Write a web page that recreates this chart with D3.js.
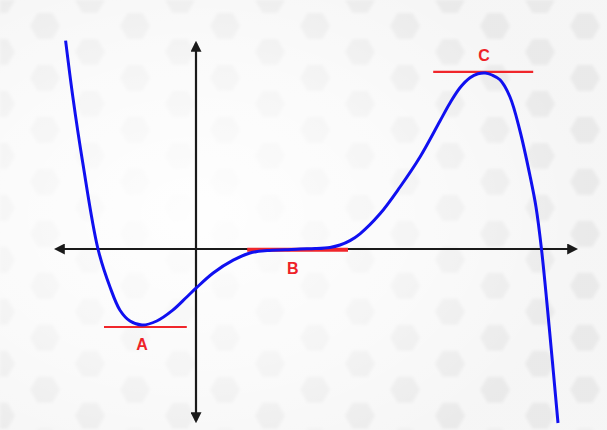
<!DOCTYPE html>
<html>
<head>
<meta charset="utf-8">
<script src="https://cdn.jsdelivr.net/npm/d3@7"></script>
<style>
  html, body { margin: 0; padding: 0; background: #f4f4f4; }
  svg { display: block; }
</style>
</head>
<body>
<svg id="chart" width="607" height="430"></svg>
<script>
// Curve points
const curveX = [-3.26, -3.08, -2.83, -2.45, -2.15, -1.9, -1.65, -1.35, -0.98, -0.58, -0.23, 0,
  0.43, 0.93, 1.35, 1.78, 2.23, 2.6, 2.98, 3.35, 3.6, 3.85, 4.1, 4.6, 5.1, 5.6, 6.1, 6.35,
  6.6, 6.85, 7.05, 7.23, 7.4, 7.6, 7.85, 8.1, 8.35, 8.5, 8.64, 8.83, 9.05];
const curveY = [5.21, 3.81, 2.15, 0, -0.95, -1.53, -1.8, -1.9, -1.8, -1.53, -1.2, -0.98,
  -0.6, -0.28, -0.1, -0.04, -0.02, 0, 0.01, 0.04, 0.1, 0.21, 0.38, 0.88, 1.55, 2.3, 3.2, 3.65,
  4.03, 4.28, 4.38, 4.4, 4.35, 4.23, 3.8, 2.95, 1.83, 1.05, -0.03, -1.95, -4.35];

// Horizontal tangents at the turning points
const pointLabels = ["A", "B", "C"];
const tangentX0 = [-2.3, 1.28, 5.93];
const tangentX1 = [-0.23, 3.8, 8.43];
const tangentY = [-1.95, -0.02, 4.43];
const labelX = [-1.35, 2.42, 7.2];
const labelY = [-2.38, -0.48, 4.85];

const svg = d3.select("#chart");
const width = 607;
const height = 430;

// Scales
const xScale = d3.scaleLinear().domain([-3.5, 9.5]).range([56, 576]);
const yScale = d3.scaleLinear().domain([-4.3, 5.15]).range([421, 43]);

// Background with faint hexagons
const defs = svg.append("defs");
const R = 30, r = 15;
const hex = (cx, cy) => d3.range(6).map((i) => {
  const a = (Math.PI / 3) * i;
  return [cx + r * Math.cos(a), cy + r * Math.sin(a)];
});
const pattern = defs.append("pattern")
  .attr("id", "hexes")
  .attr("patternUnits", "userSpaceOnUse")
  .attr("width", 3 * R)
  .attr("height", Math.sqrt(3) * R);
pattern.append("rect").attr("width", 3 * R).attr("height", Math.sqrt(3) * R).attr("fill", "#f4f4f4");
[[0, 0], [3 * R, 0], [0, Math.sqrt(3) * R], [3 * R, Math.sqrt(3) * R], [1.5 * R, Math.sqrt(3) * R / 2]]
  .forEach(([cx, cy]) => {
    pattern.append("polygon")
      .attr("points", hex(cx, cy).map((p) => p.join(",")).join(" "))
      .attr("fill", "#e6e6e6");
  });

defs.append("filter").attr("id", "soft")
  .append("feGaussianBlur").attr("stdDeviation", 1.6);

const glow = defs.append("radialGradient")
  .attr("id", "glow")
  .attr("cx", "32%").attr("cy", "50%").attr("r", "65%");
glow.append("stop").attr("offset", "0%").attr("stop-color", "#fff").attr("stop-opacity", 0.95);
glow.append("stop").attr("offset", "55%").attr("stop-color", "#fff").attr("stop-opacity", 0.6);
glow.append("stop").attr("offset", "100%").attr("stop-color", "#fff").attr("stop-opacity", 0.15);

svg.append("rect").attr("width", width).attr("height", height).attr("fill", "#f4f4f4");
svg.append("rect").attr("width", width).attr("height", height)
  .attr("fill", "url(#hexes)").attr("filter", "url(#soft)");
svg.append("rect").attr("width", width).attr("height", height).attr("fill", "url(#glow)");

// Arrow marker
defs.append("marker")
  .attr("id", "arrow")
  .attr("viewBox", "0 0 10 10")
  .attr("refX", 8).attr("refY", 5)
  .attr("markerWidth", 5).attr("markerHeight", 5)
  .attr("orient", "auto-start-reverse")
  .append("path")
  .attr("d", "M0,0 L10,5 L0,10 z")
  .attr("fill", "#1a1a1a");

// Axes
const [x0, x1] = xScale.domain();
const [y0, y1] = yScale.domain();
svg.append("line")
  .attr("x1", xScale(x0)).attr("x2", xScale(x1))
  .attr("y1", yScale(0)).attr("y2", yScale(0))
  .attr("stroke", "#1a1a1a").attr("stroke-width", 2.2)
  .attr("marker-start", "url(#arrow)").attr("marker-end", "url(#arrow)");
svg.append("line")
  .attr("x1", xScale(0)).attr("x2", xScale(0))
  .attr("y1", yScale(y0)).attr("y2", yScale(y1))
  .attr("stroke", "#1a1a1a").attr("stroke-width", 2.2)
  .attr("marker-start", "url(#arrow)").attr("marker-end", "url(#arrow)");

// Tangent lines
const tangents = pointLabels.map((label, i) => ({
  label, x0: tangentX0[i], x1: tangentX1[i], y: tangentY[i], lx: labelX[i], ly: labelY[i]
}));
svg.selectAll(".tangent")
  .data(tangents)
  .join("line")
  .attr("class", "tangent")
  .attr("x1", (d) => xScale(d.x0)).attr("x2", (d) => xScale(d.x1))
  .attr("y1", (d) => yScale(d.y)).attr("y2", (d) => yScale(d.y))
  .attr("stroke", "#f0262b")
  .attr("stroke-width", (d) => (d.label === "B" ? 4 : 2.2));

// Curve
const points = curveX.map((x, i) => ({ x, y: curveY[i] }));
const line = d3.line()
  .x((d) => xScale(d.x))
  .y((d) => yScale(d.y))
  .curve(d3.curveCatmullRom.alpha(0.5));
svg.append("path")
  .datum(points)
  .attr("fill", "none")
  .attr("stroke", "#1010f0")
  .attr("stroke-width", 3)
  .attr("d", line);

// Labels
svg.selectAll(".label")
  .data(tangents)
  .join("text")
  .attr("class", "label")
  .attr("x", (d) => xScale(d.lx))
  .attr("y", (d) => yScale(d.ly))
  .attr("text-anchor", "middle")
  .attr("dominant-baseline", "central")
  .attr("font-family", "Liberation Sans, Arial, sans-serif")
  .attr("font-weight", "bold")
  .attr("font-size", 16)
  .attr("fill", "#ee2228")
  .text((d) => d.label);
</script>
</body>
</html>
